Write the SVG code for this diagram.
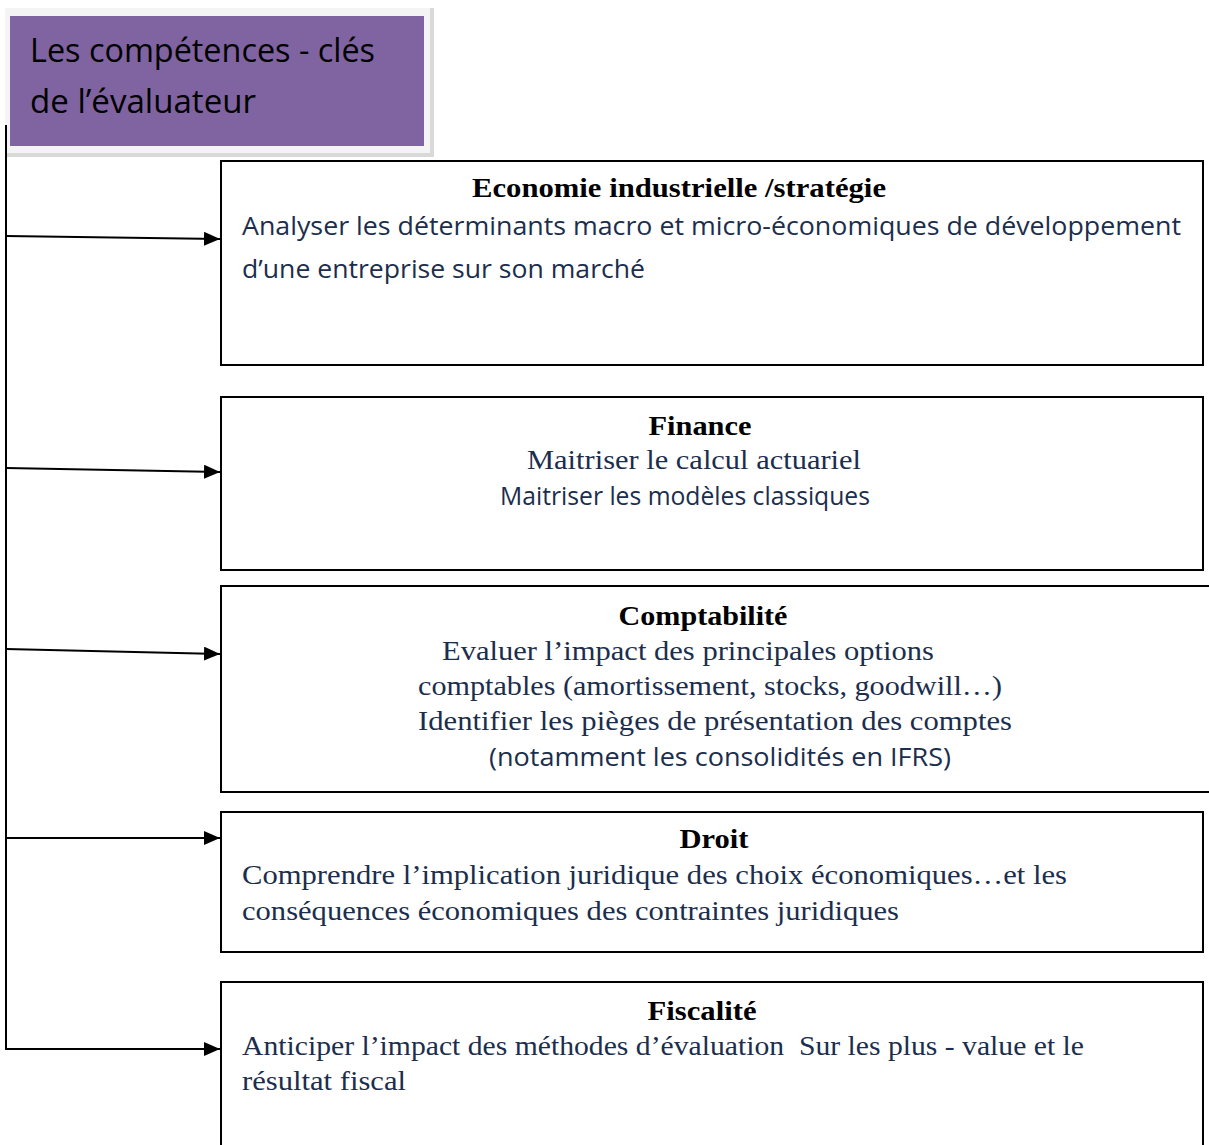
<svg xmlns="http://www.w3.org/2000/svg" width="1209" height="1145" viewBox="0 0 1209 1145">
<style>
.box{fill:#ffffff;stroke:#000000;stroke-width:2}
.conn{fill:none;stroke:#000000;stroke-width:2}
.hd{font-family:"Liberation Serif","Times New Roman",serif;font-weight:bold;font-size:27px;fill:#000000}
.sr{font-family:"Liberation Serif","Times New Roman",serif;font-size:28px;fill:#1b2e4d}
.ss{font-family:"Open Sans","Liberation Sans",sans-serif;font-size:25px;fill:#1b2e4d}
.tt{font-family:"Open Sans","Liberation Sans",sans-serif;font-size:32px;fill:#000000}
</style>
<defs>
<marker id="ah" viewBox="0 0 16 14" refX="16" refY="7" markerWidth="16" markerHeight="14" markerUnits="userSpaceOnUse" orient="auto">
<path d="M0,0 L16,7 L0,14 Z" fill="#000000"/>
</marker>
</defs>
<rect width="1209" height="1145" fill="#ffffff"/>
<g id="title">
<rect x="5" y="8" width="429" height="149" fill="#d9d9d9"/>
<rect x="5" y="8" width="425" height="145" fill="#f4f4f4"/>
<rect x="10" y="16" width="414" height="130" fill="#8064a2"/>
<text class="tt" x="30" y="62" textLength="345" lengthAdjust="spacingAndGlyphs">Les compétences - clés</text>
<text class="tt" x="30" y="113" textLength="226" lengthAdjust="spacingAndGlyphs">de l’évaluateur</text>
</g>
<g id="connectors">
<path class="conn" d="M6,125 V1049 H220" marker-end="url(#ah)"/>
<path class="conn" d="M6,236 L220,239" marker-end="url(#ah)"/>
<path class="conn" d="M6,468 L220,472" marker-end="url(#ah)"/>
<path class="conn" d="M6,649 L220,654" marker-end="url(#ah)"/>
<path class="conn" d="M6,838 L220,838" marker-end="url(#ah)"/>
</g>
<g id="economie">
<rect class="box" x="221" y="161" width="982" height="204"/>
<text class="hd" x="679" y="197" text-anchor="middle" textLength="414" lengthAdjust="spacingAndGlyphs">Economie industrielle /stratégie</text>
<text class="ss" x="242" y="235" textLength="939" lengthAdjust="spacingAndGlyphs">Analyser les déterminants macro et micro-économiques de développement</text>
<text class="ss" x="242" y="278" textLength="403" lengthAdjust="spacingAndGlyphs">d’une entreprise sur son marché</text>
</g>
<g id="finance">
<rect class="box" x="221" y="397" width="982" height="173"/>
<text class="hd" x="700" y="435" text-anchor="middle" textLength="103" lengthAdjust="spacingAndGlyphs">Finance</text>
<text class="sr" x="527" y="469" textLength="334" lengthAdjust="spacingAndGlyphs">Maitriser le calcul actuariel</text>
<text class="ss" x="500" y="505" textLength="370" lengthAdjust="spacingAndGlyphs">Maitriser les modèles classiques</text>
</g>
<g id="comptabilite">
<rect class="box" x="221" y="586" width="1000" height="206"/>
<text class="hd" x="703" y="625" text-anchor="middle" textLength="169" lengthAdjust="spacingAndGlyphs">Comptabilité</text>
<text class="sr" x="442" y="660" textLength="492" lengthAdjust="spacingAndGlyphs">Evaluer l’impact des principales options</text>
<text class="sr" x="418" y="695" textLength="584" lengthAdjust="spacingAndGlyphs">comptables (amortissement, stocks, goodwill…)</text>
<text class="sr" x="418" y="730" textLength="594" lengthAdjust="spacingAndGlyphs">Identifier les pièges de présentation des comptes</text>
<text class="ss" x="489" y="766" textLength="462" lengthAdjust="spacingAndGlyphs">(notamment les consolidités en IFRS)</text>
</g>
<g id="droit">
<rect class="box" x="221" y="812" width="982" height="140"/>
<text class="hd" x="714" y="848" text-anchor="middle" textLength="69" lengthAdjust="spacingAndGlyphs">Droit</text>
<text class="sr" x="242" y="884" textLength="825" lengthAdjust="spacingAndGlyphs">Comprendre l’implication juridique des choix économiques…et les</text>
<text class="sr" x="242" y="920" textLength="657" lengthAdjust="spacingAndGlyphs">conséquences économiques des contraintes juridiques</text>
</g>
<g id="fiscalite">
<rect class="box" x="221" y="982" width="982" height="180"/>
<text class="hd" x="702" y="1020" text-anchor="middle" textLength="109" lengthAdjust="spacingAndGlyphs">Fiscalité</text>
<text class="sr" x="242" y="1055" textLength="842" lengthAdjust="spacingAndGlyphs">Anticiper l’impact des méthodes d’évaluation&#160; Sur les plus - value et le</text>
<text class="sr" x="242" y="1090" textLength="164" lengthAdjust="spacingAndGlyphs">résultat fiscal</text>
</g>
</svg>
